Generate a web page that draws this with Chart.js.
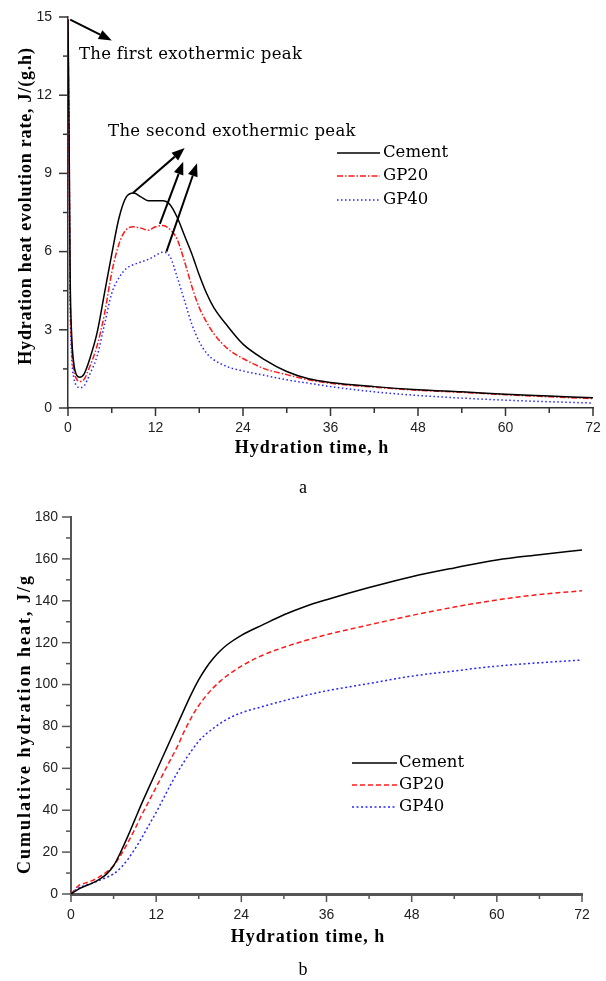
<!DOCTYPE html>
<html>
<head>
<meta charset="utf-8">
<script src="https://cdn.jsdelivr.net/npm/chart.js@4.4.0/dist/chart.umd.min.js"></script>
<style>
  body { margin: 0; background: #fff; }
  #wrap { position: relative; width: 606px; height: 981px; }
  canvas { position: absolute; left: 0; }
  #rateChart { top: 0; }
  #heatChart { top: 500px; }
</style>
</head>
<body>
<div id="wrap">
  <canvas id="rateChart" width="606" height="500"></canvas>
  <canvas id="heatChart" width="606" height="481"></canvas>
</div>
<script>
// (a) heat evolution rate, J/(g.h)
const rateHours = [0, 0.15, 0.3, 0.5, 0.8, 1.2, 1.6, 2.2, 3, 4, 5, 6, 7, 8, 9, 10, 11, 12, 13, 14, 15, 16, 17, 18, 19, 20, 22, 24, 27, 30, 33, 36, 42, 48, 54, 60, 66, 72];
const cementRate = [14.9, 10.5, 5.0, 2.8, 1.7, 1.25, 1.18, 1.3, 1.9, 2.9, 4.4, 5.9, 7.3, 8.1, 8.25, 8.1, 7.95, 7.95, 7.95, 7.8, 7.3, 6.6, 5.9, 5.1, 4.4, 3.85, 3.1, 2.45, 1.85, 1.4, 1.12, 0.98, 0.82, 0.7, 0.62, 0.53, 0.46, 0.39];
const gp20Rate = [14.9, 10.0, 4.5, 2.4, 1.45, 1.1, 1.02, 1.1, 1.6, 2.4, 3.6, 5.2, 6.3, 6.85, 6.95, 6.9, 6.82, 6.95, 7.0, 6.85, 6.45, 5.6, 4.65, 3.85, 3.3, 2.85, 2.25, 1.9, 1.5, 1.28, 1.08, 0.95, 0.8, 0.68, 0.6, 0.51, 0.43, 0.36];
const gp40Rate = [14.9, 9.5, 4.0, 2.0, 1.15, 0.85, 0.78, 0.85, 1.3, 2.0, 3.2, 4.4, 5.0, 5.35, 5.5, 5.6, 5.7, 5.85, 5.98, 5.8, 5.0, 4.1, 3.2, 2.55, 2.1, 1.85, 1.57, 1.42, 1.25, 1.08, 0.95, 0.82, 0.62, 0.48, 0.38, 0.3, 0.24, 0.19];

// (b) cumulative hydration heat, J/g
const heatHours = [0, 1, 2, 3, 4, 5, 6, 7, 8, 9, 10, 11, 12, 13, 14, 15, 16, 17, 18, 19, 20, 21, 22, 24, 27, 30, 33, 36, 42, 48, 54, 60, 66, 72];
const cementHeat = [0, 2.2, 3.8, 5.2, 7.0, 9.5, 13.5, 20, 27.5, 35.5, 43.5, 51, 58.5, 66, 73.5, 81, 88.5, 95.8, 102.3, 107.8, 112.3, 116, 119, 123.5, 128.5, 133.3, 137.3, 140.5, 146.3, 151.5, 155.7, 159.5, 162, 164.3];
const gp20Heat = [0, 3.8, 5.2, 6.4, 8.2, 10.5, 13.5, 18.5, 24.5, 31, 38, 44.5, 51, 57.5, 64, 70.5, 78, 84.5, 90, 94.5, 98.3, 101.5, 104.3, 108.8, 114, 117.8, 121, 123.8, 128.5, 133, 137, 140.4, 143, 144.8];
const gp40Heat = [0, 2.8, 4.0, 5.2, 6.5, 7.9, 9.6, 12.5, 16.5, 21.5, 27, 33, 39, 45.5, 52, 58, 63.5, 68.5, 73, 76.3, 79, 81.4, 83.5, 86.5, 89.5, 92.3, 94.8, 97, 100.5, 104, 106.5, 108.8, 110.4, 111.7];

const seriesNames = ['Cement', 'GP20', 'GP40'];
const hourTicks = { min: 0, max: 72, major: 12, minor: 6 };
const rateTicks = { min: 0, max: 15, major: 3, minor: 1.5 };
const heatTicks = { min: 0, max: 180, major: 20, minor: 10 };

const pts = (xs, ys) => xs.map((x, i) => ({ x: x, y: ys[i] }));

function lineSet(label, xs, ys, color, dash) {
  return {
    label: label,
    data: pts(xs, ys),
    borderColor: color,
    borderDash: dash,
    borderWidth: 1.5,
    pointRadius: 0,
    cubicInterpolationMode: 'monotone',
    fill: false
  };
}

function arrow(ctx, x1, y1, x2, y2) {
  const ang = Math.atan2(y2 - y1, x2 - x1);
  const len = 13, half = 5;
  const bx = x2 - len * Math.cos(ang), by = y2 - len * Math.sin(ang);
  ctx.beginPath();
  ctx.moveTo(x1, y1);
  ctx.lineTo(bx, by);
  ctx.stroke();
  ctx.beginPath();
  ctx.moveTo(x2, y2);
  ctx.lineTo(bx + half * Math.sin(ang), by - half * Math.cos(ang));
  ctx.lineTo(bx - half * Math.sin(ang), by + half * Math.cos(ang));
  ctx.closePath();
  ctx.fill();
}

// minor/major tick marks, axis titles, legend, notes and panel letter
function decor(o) {
  return {
    id: 'decor',
    afterDraw(chart) {
      const ctx = chart.ctx, xs = chart.scales.x, ys = chart.scales.y;
      ctx.save();
      ctx.strokeStyle = o.axisColor;
      ctx.lineWidth = 1.5;
      for (let v = o.xt.min; v <= o.xt.max + 1e-6; v += o.xt.minor) {
        const major = Math.abs(v / o.xt.major - Math.round(v / o.xt.major)) < 1e-6;
        const px = xs.getPixelForValue(v);
        ctx.beginPath();
        ctx.moveTo(px, xs.top);
        ctx.lineTo(px, xs.top + (major ? 8 : 5));
        ctx.stroke();
      }
      for (let v = o.yt.min; v <= o.yt.max + 1e-6; v += o.yt.minor) {
        const major = Math.abs(v / o.yt.major - Math.round(v / o.yt.major)) < 1e-6;
        const py = ys.getPixelForValue(v);
        ctx.beginPath();
        ctx.moveTo(ys.right, py);
        ctx.lineTo(ys.right - (major ? 9 : 5), py);
        ctx.stroke();
      }

      // axis titles
      ctx.fillStyle = '#000';
      ctx.font = 'bold 18px "Liberation Serif", serif';
      ctx.textAlign = 'center';
      ctx.textBaseline = 'middle';
      ctx.letterSpacing = '1px';
      ctx.fillText('Hydration time, h', o.xTitle[0], o.xTitle[1]);
      ctx.save();
      ctx.translate(o.yTitle[0], o.yTitle[1]);
      ctx.rotate(-Math.PI / 2);
      ctx.letterSpacing = o.yTitleSpacing;
      ctx.fillText(o.yTitleText, 0, 0);
      ctx.restore();
      ctx.letterSpacing = '0px';

      // panel letter
      ctx.font = '18px "Liberation Serif", serif';
      ctx.fillText(o.panel, o.panelPos[0], o.panelPos[1]);

      // legend
      ctx.font = '16.5px "DejaVu Serif", serif';
      ctx.textAlign = 'left';
      chart.data.datasets.forEach((ds, i) => {
        const y = o.legend.y[i];
        ctx.save();
        ctx.strokeStyle = ds.borderColor;
        ctx.lineWidth = 1.5;
        ctx.setLineDash(ds.borderDash || []);
        ctx.beginPath();
        ctx.moveTo(o.legend.x1, y);
        ctx.lineTo(o.legend.x2, y);
        ctx.stroke();
        ctx.restore();
        ctx.fillText(ds.label, o.legend.tx, y);
      });

      // peak notes, placed in data units
      if (o.notes) {
        ctx.strokeStyle = '#000';
        ctx.fillStyle = '#000';
        ctx.lineWidth = 2;
        o.notes.arrows.forEach(a => {
          arrow(ctx, xs.getPixelForValue(a[0]), ys.getPixelForValue(a[1]),
                xs.getPixelForValue(a[2]), ys.getPixelForValue(a[3]));
        });
        ctx.font = '16.5px "DejaVu Serif", serif';
        ctx.letterSpacing = '0.3px';
        o.notes.texts.forEach(t => {
          ctx.fillText(t[0], xs.getPixelForValue(t[1]), ys.getPixelForValue(t[2]));
        });
        ctx.letterSpacing = '0px';
      }
      ctx.restore();
    }
  };
}

function makeOptions(c) {
  const tickFont = { family: '"Liberation Sans", Arial, sans-serif', size: 14 };
  return {
    responsive: false,
    animation: false,
    devicePixelRatio: 1,
    layout: { padding: c.padding },
    plugins: { legend: { display: false }, tooltip: { enabled: false } },
    scales: {
      x: {
        type: 'linear', min: hourTicks.min, max: hourTicks.max,
        ticks: { stepSize: hourTicks.major, font: tickFont, color: '#222', padding: c.xPad, maxRotation: 0 },
        grid: { display: false },
        border: { display: true, color: c.axisColor, width: c.xAxisWidth },
        afterFit: s => { s.height = c.xHeight; s.paddingLeft = 0; s.paddingRight = 0; }
      },
      y: {
        type: 'linear', min: c.yt.min, max: c.yt.max,
        ticks: { stepSize: c.yt.major, font: tickFont, color: '#222', padding: c.yPad },
        grid: { display: false },
        border: { display: true, color: c.axisColor, width: c.yAxisWidth },
        afterFit: s => { s.width = c.yWidth; s.paddingTop = 0; s.paddingBottom = 0; }
      }
    }
  };
}

new Chart(document.getElementById('rateChart'), {
  type: 'line',
  data: {
    datasets: [
      lineSet(seriesNames[0], rateHours, cementRate, '#000000', []),
      lineSet(seriesNames[1], rateHours, gp20Rate, '#ff1a1a', [6, 2, 1.5, 2]),
      lineSet(seriesNames[2], rateHours, gp40Rate, '#2626ff', [1.5, 2.5])
    ]
  },
  options: makeOptions({
    padding: { top: 17, right: 13, left: 0, bottom: 0 },
    yt: rateTicks, yWidth: 68, xHeight: 92, xPad: 4, yPad: 8,
    axisColor: '#333', xAxisWidth: 1.5, yAxisWidth: 1.5
  }),
  plugins: [decor({
    xt: hourTicks, yt: rateTicks, axisColor: '#333',
    xTitle: [312, 448], yTitle: [26, 206],
    yTitleText: 'Hydration heat evolution rate, J/(g.h)', yTitleSpacing: '0.8px',
    panel: 'a', panelPos: [303, 488],
    legend: { x1: 337, x2: 380, tx: 383, y: [153, 176, 200] },
    notes: {
      arrows: [[0.3, 14.9, 6.0, 14.1], [8.9, 8.25, 16.0, 9.97], [12.6, 7.06, 15.8, 9.45], [13.5, 6.0, 17.7, 9.39]],
      texts: [['The first exothermic peak', 1.5, 13.54], ['The second exothermic peak', 5.5, 10.6]]
    }
  })]
});

new Chart(document.getElementById('heatChart'), {
  type: 'line',
  data: {
    datasets: [
      lineSet(seriesNames[0], heatHours, cementHeat, '#000000', []),
      lineSet(seriesNames[1], heatHours, gp20Heat, '#ff1a1a', [5, 3]),
      lineSet(seriesNames[2], heatHours, gp40Heat, '#2626ff', [2, 2.5])
    ]
  },
  options: makeOptions({
    padding: { top: 17, right: 24, left: 0, bottom: 0 },
    yt: heatTicks, yWidth: 71, xHeight: 87, xPad: 5, yPad: 5,
    axisColor: '#555', xAxisWidth: 3, yAxisWidth: 2
  }),
  plugins: [decor({
    xt: hourTicks, yt: heatTicks, axisColor: '#555',
    xTitle: [308, 437], yTitle: [25, 224],
    yTitleText: 'Cumulative hydration heat, J/g', yTitleSpacing: '2px',
    panel: 'b', panelPos: [303, 470],
    legend: { x1: 352, x2: 397, tx: 399, y: [263, 285, 307] }
  })]
});
</script>
</body>
</html>
